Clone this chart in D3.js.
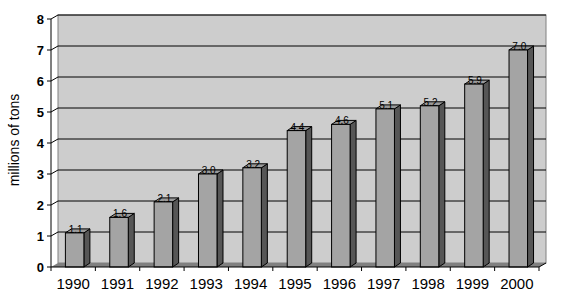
<!DOCTYPE html>
<html>
<head>
<meta charset="utf-8">
<script src="https://cdn.jsdelivr.net/npm/d3@7"></script>
<style>
	body { margin: 0; background: white; }
	text { font-family: Arial, "Liberation Sans", sans-serif; }
</style>
</head>
<body>
<div id="chart"></div>
<script>
// chart data
const years  = ["1990", "1991", "1992", "1993", "1994", "1995", "1996", "1997", "1998", "1999", "2000"];
const tons   = [1.1, 1.6, 2.1, 3.0, 3.2, 4.4, 4.6, 5.1, 5.2, 5.9, 7.0];
const yTicks = [0, 1, 2, 3, 4, 5, 6, 7, 8];
const yTitle = "millions of tons";

function main() {

	// set svg's height and width
	const SVG_HEIGHT = 304;
	const SVG_WIDTH  = 565;

	// front plane of the 3d box
	var left = 51, right = 539, bottom = 267, top = 19;

	// depth offset of the back wall, and of the bars
	var dx = 7, dy = -4;
	var bdx = 6, bdy = -4;

	var svg = d3.select("#chart")
		.append("svg")
		.attr("width", SVG_WIDTH)
		.attr("height", SVG_HEIGHT);

	// scales
	var x = d3.scaleBand().domain(years).range([left, right]);
	var y = d3.scaleLinear().domain([0, 8]).range([bottom, top]);

	// back wall
	svg.append("rect")
		.attr("x", left + dx)
		.attr("y", top + dy)
		.attr("width", right - left)
		.attr("height", bottom - top)
		.attr("fill", "#cdcdcd")
		.attr("stroke", "#808080");

	// floor
	svg.append("polygon")
		.attr("points", [[left, bottom], [right, bottom], [right + dx, bottom + dy], [left + dx, bottom + dy]].join(" "))
		.attr("fill", "#808080");

	// gridlines, going across the side wall then along the back wall
	var grid = svg.append("g");
	yTicks.filter(d => d > 0).forEach(function(d) {
		grid.append("polyline")
			.attr("points", [[left - 4, y(d)], [left, y(d)], [left + dx, y(d) + dy], [right + dx, y(d) + dy]].join(" "))
			.attr("fill", "none")
			.attr("stroke", "black");
	});

	// bars: front face, side face, top face
	var bw = 18.5, off = 14.4;
	var bars = svg.append("g").selectAll("g")
		.data(years)
		.enter()
		.append("g");

	bars.append("polygon")
		.attr("points", (d, i) => {
			var x1 = x(d) + off + bw, y0 = y(tons[i]);
			return [[x1, y0], [x1 + bdx, y0 + bdy], [x1 + bdx, bottom + bdy], [x1, bottom]].join(" ");
		})
		.attr("fill", "#565656")
		.attr("stroke", "black");

	bars.append("polygon")
		.attr("points", (d, i) => {
			var x0 = x(d) + off, y0 = y(tons[i]);
			return [[x0, y0], [x0 + bdx, y0 + bdy], [x0 + bw + bdx, y0 + bdy], [x0 + bw, y0]].join(" ");
		})
		.attr("fill", "#9a9a9a")
		.attr("stroke", "black");

	bars.append("rect")
		.attr("x", d => x(d) + off)
		.attr("y", (d, i) => y(tons[i]))
		.attr("width", bw)
		.attr("height", (d, i) => bottom - y(tons[i]))
		.attr("fill", "#a4a4a4")
		.attr("stroke", "black");

	// value labels sit on the bar tops
	bars.append("text")
		.attr("x", d => x(d) + off + bw / 2 + 1)
		.attr("y", (d, i) => y(tons[i]))
		.attr("text-anchor", "middle")
		.attr("font-size", "10px")
		.attr("fill", "black")
		.text((d, i) => tons[i].toFixed(1));

	// x axis
	svg.append("line")
		.attr("x1", left).attr("x2", right)
		.attr("y1", bottom).attr("y2", bottom)
		.attr("stroke", "black");
	svg.append("line")
		.attr("x1", right).attr("x2", right + dx)
		.attr("y1", bottom).attr("y2", bottom + dy)
		.attr("stroke", "black");

	var xb = x.domain().map(d => x(d)).concat([right]);
	svg.append("g").selectAll("line")
		.data(xb)
		.enter()
		.append("line")
		.attr("x1", d => d).attr("x2", d => d)
		.attr("y1", bottom).attr("y2", bottom + 4)
		.attr("stroke", "black");

	svg.append("g").selectAll("text")
		.data(years)
		.enter()
		.append("text")
		.attr("x", d => x(d) + x.bandwidth() / 2)
		.attr("y", 289)
		.attr("text-anchor", "middle")
		.attr("font-size", "15px")
		.text(d => d);

	// y axis
	svg.append("line")
		.attr("x1", left).attr("x2", left)
		.attr("y1", top).attr("y2", bottom)
		.attr("stroke", "black");
	svg.append("line")
		.attr("x1", left - 4).attr("x2", left)
		.attr("y1", bottom).attr("y2", bottom)
		.attr("stroke", "black");

	svg.append("g").selectAll("text")
		.data(yTicks)
		.enter()
		.append("text")
		.attr("x", 44)
		.attr("y", d => y(d) + 5)
		.attr("text-anchor", "end")
		.attr("font-size", "13px")
		.attr("font-weight", "bold")
		.text(d => d);

	svg.append("text")
		.attr("transform", "translate(19,140) rotate(-90)")
		.attr("text-anchor", "middle")
		.attr("font-size", "14px")
		.text(yTitle);
}

function whenDocumentLoaded(action) {
	if (document.readyState === "loading") {
		document.addEventListener("DOMContentLoaded", action);
	} else {
		action();
	};
}

whenDocumentLoaded(() => {
	main()
});
</script>
</body>
</html>
